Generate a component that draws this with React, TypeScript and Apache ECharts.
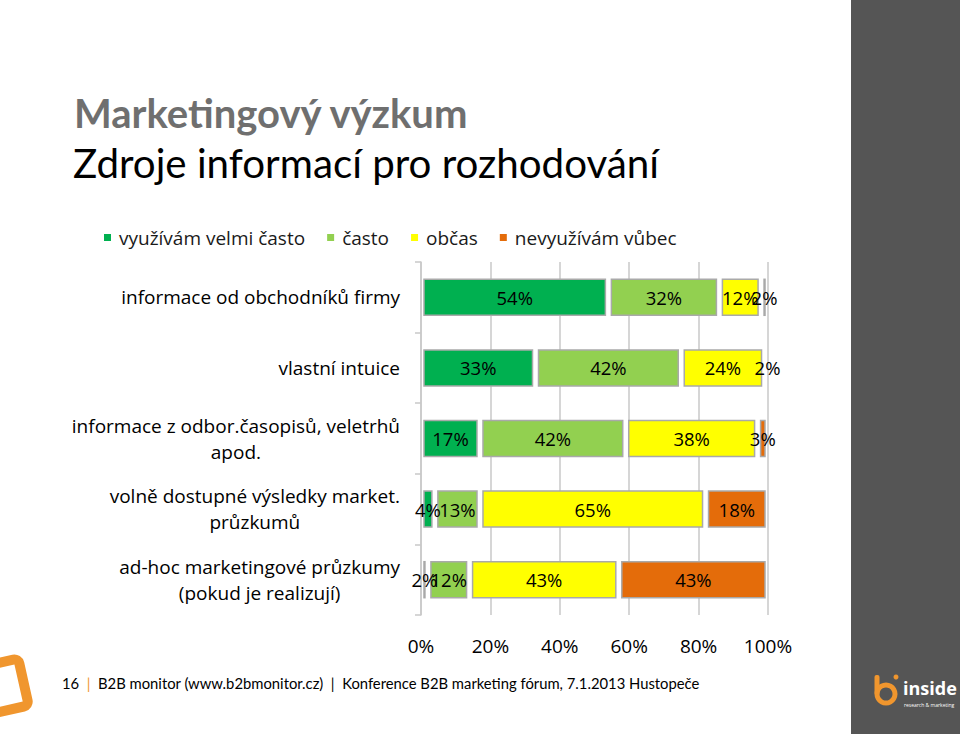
import React, { useEffect, useRef } from "react";
import * as echarts from "echarts";

const categories = [
  "informace od obchodníků firmy",
  "vlastní intuice",
  "informace z odbor.časopisů, veletrhů\napod.",
  "volně dostupné výsledky market.\nprůzkumů",
  "ad-hoc marketingové průzkumy\n(pokud je realizují)",
];
const seriesNames = ["využívám velmi často", "často", "občas", "nevyužívám vůbec"];
const velmiCasto = [54, 33, 17, 4, 2];
const casto = [32, 42, 42, 13, 12];
const obcas = [12, 24, 38, 65, 43];
const nevyuzivam = [2, 2, 3, 18, 43];
const colors = ["#00b050", "#92d050", "#ffff00", "#e46c0a"];

const FONT = "'Open Sans', sans-serif";
const AXIS_FS = 19;

export default function App() {
  const ref = useRef<HTMLDivElement>(null);
  useEffect(() => {
    if (!ref.current) return;
    const chart = echarts.init(ref.current, null, { renderer: "svg" });
    const all = [velmiCasto, casto, obcas, nevyuzivam];
    const series = all.map((vals, si) => {
      const data = vals.map((v, i) => {
        let start = 0;
        for (let k = 0; k < si; k++) start += all[k][i];
        const end = Math.min(start + v, 100);
        return [start, end, i, v];
      });
      return {
        type: "custom",
        name: seriesNames[si],
        itemStyle: { color: colors[si] },
        encode: { x: [0, 1], y: 2 },
        data,
        renderItem: (params: any, api: any) => {
          const s = api.coord([api.value(0), api.value(2)]);
          const e = api.coord([api.value(1), api.value(2)]);
          const band = api.size([0, 1])[1];
          const h = band * 0.51;
          const gap = 3;
          const w = Math.max(e[0] - s[0] - 2 * gap, 0);
          return {
            type: "rect",
            shape: { x: s[0] + gap, y: s[1] - h / 2, width: w, height: h },
            style: {
              fill: api.visual("color"),
              stroke: w > 0 ? "#a9a9a9" : "none",
              lineWidth: 1.5,
            },
            textContent: {
              style: {
                text: api.value(3) + "%",
                fill: "#000",
                fontSize: 18.5,
                fontFamily: FONT,
              },
            },
            textConfig: { position: "inside" },
          };
        },
      };
    });

    const option: any = {
      animation: false,
      backgroundColor: "#ffffff",
      grid: { left: 421, right: 192, top: 262, bottom: 119, containLabel: false },
      legend: {
        left: 99,
        top: 223,
        itemWidth: 7,
        itemHeight: 7,
        itemGap: 22,
        icon: "rect",
        textStyle: { fontSize: AXIS_FS, fontFamily: FONT, color: "#1a1a1a", padding: [0, 0, 0, 3] },
        data: seriesNames,
      },
      xAxis: {
        type: "value",
        min: 0,
        max: 100,
        interval: 20,
        axisLine: { show: false },
        axisTick: { show: false },
        axisLabel: {
          formatter: "{value}%",
          fontSize: AXIS_FS,
          fontFamily: FONT,
          color: "#000",
          margin: 21,
        },
        splitLine: { show: true, lineStyle: { color: "#c8c8c8", width: 1.5 } },
      },
      yAxis: {
        type: "category",
        inverse: true,
        data: categories,
        axisLine: { show: true, lineStyle: { color: "#c8c8c8", width: 1.5 } },
        axisTick: { show: true, length: 6, lineStyle: { color: "#c8c8c8", width: 1.5 } },
        axisLabel: {
          margin: 21,
          align: "right",
          fontSize: AXIS_FS,
          fontFamily: FONT,
          color: "#000",
          lineHeight: 26,
          formatter: (v: string) =>
            v
              .split("\n")
              .map((l) => "{c|" + l + "}")
              .join("\n"),
          rich: {
            c: { align: "center", fontSize: AXIS_FS, fontFamily: FONT, color: "#000", lineHeight: 26 },
          },
        },
      },
      series,
      graphic: [
        { type: "rect", shape: { x: 851, y: 0, width: 109, height: 734 }, style: { fill: "#555555" } },
        {
          type: "text",
          x: 74,
          y: 93,
          style: {
            text: "Marketingový výzkum",
            fontSize: 40,
            fontWeight: "bold",
            fontFamily: "Lato, sans-serif",
            fill: "#6f6f6f",
          },
        },
        {
          type: "text",
          x: 73,
          y: 142,
          style: {
            text: "Zdroje informací pro rozhodování",
            fontSize: 40.3,
            fontFamily: "Lato, sans-serif",
            fill: "#000",
          },
        },
        {
          type: "text",
          x: 62,
          y: 675,
          style: {
            text: "{a|16  }{o||}{a|  B2B monitor (www.b2bmonitor.cz)  |  Konference B2B marketing fórum, 7.1.2013 Hustopeče}",
            rich: {
              a: { fontSize: 14.8, fontFamily: "Lato, sans-serif", fill: "#000" },
              o: { fontSize: 14.8, fontFamily: "Lato, sans-serif", fill: "#f0962e" },
            },
          },
        },
        {
          type: "rect",
          x: 1,
          y: 687,
          rotation: 0.22,
          shape: { x: -23, y: -24, width: 46, height: 48, r: 5 },
          style: { fill: "none", stroke: "#f0962e", lineWidth: 10 },
        },
        {
          type: "ring",
          shape: { cx: 886, cy: 694, r: 11.5, r0: 6.5 },
          style: { fill: "#f0962e" },
        },
        {
          type: "rect",
          shape: { x: 874.5, y: 675, width: 5, height: 20, r: 2 },
          style: { fill: "#f0962e" },
        },
        {
          type: "circle",
          shape: { cx: 896, cy: 677, r: 2.5 },
          style: { fill: "#f0962e" },
        },
        {
          type: "text",
          x: 903,
          y: 679,
          style: {
            text: "inside",
            fontSize: 18,
            fontWeight: "bold",
            fontFamily: "'Open Sans', sans-serif",
            fill: "#ffffff",
          },
        },
        {
          type: "text",
          x: 904,
          y: 702,
          style: {
            text: "research & marketing",
            fontSize: 5,
            fontFamily: FONT,
            fill: "#ffffff",
          },
        },
      ],
    };
    chart.setOption(option);
    return () => chart.dispose();
  }, []);
  return (
    <div
      ref={ref}
      style={{ position: "fixed", left: 0, top: 0, width: 960, height: 734 }}
    />
  );
}
